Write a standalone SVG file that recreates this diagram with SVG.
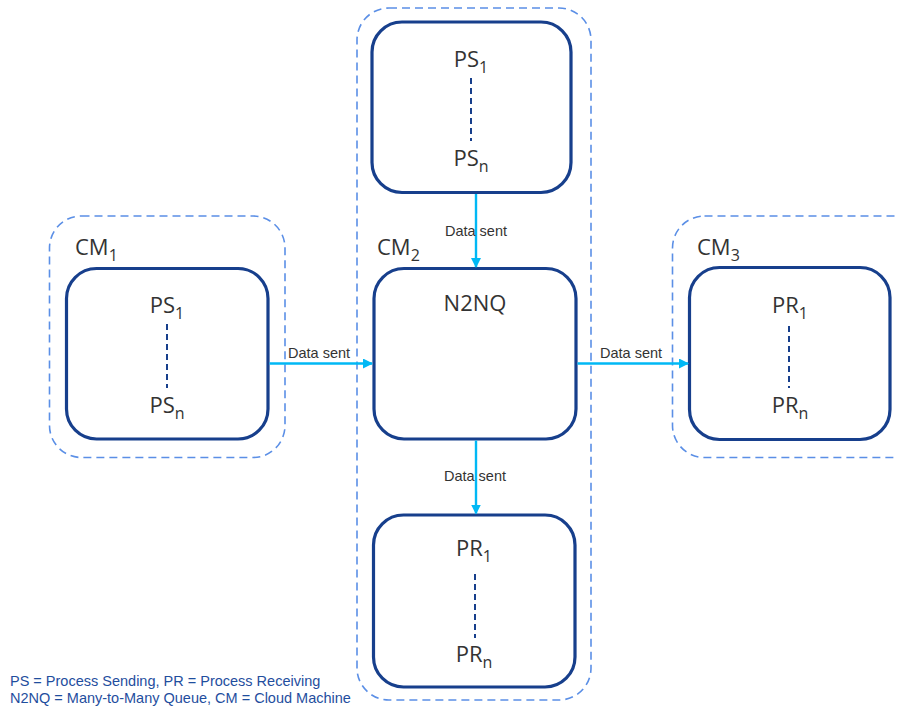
<svg xmlns="http://www.w3.org/2000/svg" width="897" height="707" viewBox="0 0 897 707">
<style>
.outer{fill:none;stroke:#5b8fe6;stroke-width:1.6;stroke-dasharray:8,5}
.box{fill:#fff;stroke:#173f8c;stroke-width:3.2}
.t{font-family:"Open Sans","Noto Sans",sans-serif;font-size:22px;fill:#333;text-anchor:middle}
.cm{font-family:"Open Sans","Noto Sans",sans-serif;font-size:22px;fill:#333}
.sub{font-size:16px}
.dots{stroke:#173f8c;stroke-width:2;stroke-dasharray:6,4}
.arr{stroke:#00b8f5;stroke-width:2.4;fill:none;marker-end:url(#ah)}
.lbl{font-family:"Liberation Sans",Arial,sans-serif;font-size:14.5px;fill:#333}
.leg{font-family:"Liberation Sans",Arial,sans-serif;font-size:14.5px;fill:#1f4e9e}
</style>
<defs>
<marker id="ah" markerWidth="10" markerHeight="10" refX="9" refY="5" orient="auto" markerUnits="userSpaceOnUse">
<path d="M0,0 L10,5 L0,10 z" fill="#00b8f5"/>
</marker>
</defs>
<g id="cm1">
<rect class="outer" x="49.5" y="216" width="235.5" height="241.5" rx="32"/>
<text class="cm" x="75" y="255">CM<tspan class="sub" dy="6">1</tspan></text>
</g>
<g id="cm2">
<rect class="outer" x="357" y="8" width="234" height="692" rx="32"/>
<text class="cm" x="377" y="255">CM<tspan class="sub" dy="6">2</tspan></text>
</g>
<g id="cm3">
<rect class="outer" x="672.5" y="216" width="260" height="241.5" rx="32"/>
<text class="cm" x="697" y="255">CM<tspan class="sub" dy="6">3</tspan></text>
</g>
<g id="ps-left">
<rect class="box" x="66.5" y="268.5" width="201.5" height="170.5" rx="30"/>
<text class="t" x="167" y="313">PS<tspan class="sub" dy="6">1</tspan></text>
<line class="dots" x1="167" y1="324" x2="167" y2="388"/>
<text class="t" x="167" y="413">PS<tspan class="sub" dy="6">n</tspan></text>
</g>
<g id="ps-top">
<rect class="box" x="372" y="22" width="199" height="170.5" rx="30"/>
<text class="t" x="471" y="67">PS<tspan class="sub" dy="6">1</tspan></text>
<line class="dots" x1="471" y1="78" x2="471" y2="141"/>
<text class="t" x="471" y="166">PS<tspan class="sub" dy="6">n</tspan></text>
</g>
<g id="n2nq">
<rect class="box" x="374" y="268.5" width="202" height="170.5" rx="30"/>
<text class="t" x="475" y="311">N2NQ</text>
</g>
<g id="pr-bottom">
<rect class="box" x="373.5" y="515" width="201.5" height="172" rx="30"/>
<text class="t" x="474" y="556">PR<tspan class="sub" dy="6">1</tspan></text>
<line class="dots" x1="475" y1="574" x2="475" y2="638"/>
<text class="t" x="474" y="662">PR<tspan class="sub" dy="6">n</tspan></text>
</g>
<g id="pr-right">
<rect class="box" x="689.5" y="267.5" width="200.5" height="172" rx="30"/>
<text class="t" x="790" y="313">PR<tspan class="sub" dy="6">1</tspan></text>
<line class="dots" x1="789" y1="326" x2="789" y2="388"/>
<text class="t" x="790" y="413">PR<tspan class="sub" dy="6">n</tspan></text>
</g>
<g id="connectors">
<line class="arr" x1="269.5" y1="363.5" x2="372" y2="363.5"/>
<line class="arr" x1="577.5" y1="363.5" x2="688" y2="363.5"/>
<line class="arr" x1="476" y1="194" x2="476" y2="267"/>
<line class="arr" x1="476" y1="440.5" x2="476" y2="513.5"/>
<text class="lbl" x="288" y="358">Data sent</text>
<text class="lbl" x="600" y="358">Data sent</text>
<text class="lbl" x="476" y="236" text-anchor="middle">Data sent</text>
<text class="lbl" x="475" y="481" text-anchor="middle">Data sent</text>
</g>
<g id="legend">
<text class="leg" x="10" y="686">PS = Process Sending, PR = Process Receiving</text>
<text class="leg" x="10" y="703">N2NQ = Many-to-Many Queue, CM = Cloud Machine</text>
</g>
</svg>
